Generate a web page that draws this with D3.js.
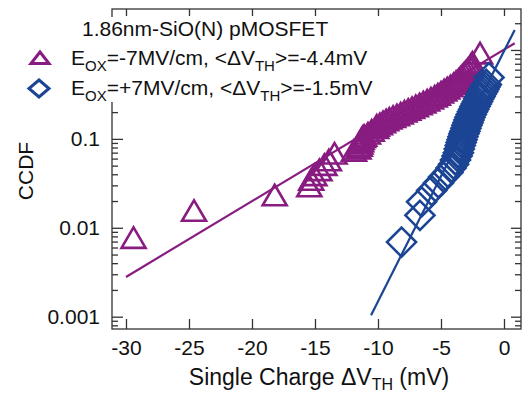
<!DOCTYPE html>
<html>
<head>
<meta charset="utf-8">
<script src="https://cdn.jsdelivr.net/npm/d3@7/dist/d3.min.js"></script>
<style>
  body { margin: 0; background: #fff; }
  svg { display: block; font-family: "Liberation Sans", Arial, sans-serif; }
</style>
</head>
<body>
<div id="chart"></div>
<script>
// Eox = -7 MV/cm (triangles): single charge dVth (mV) and CCDF
const negDV = [-29.4, -24.6, -18.2, -15.45, -15.3, -15.05, -14.65, -14.25, -13.9, -13.45,
  -11.9, -11.55, -11.45, -11.4, -11.35, -11.3, -11.2, -11.1, -10.8, -10.5, -10.15, -10.1,
  -9.85, -9.6, -9.35, -9.1, -8.8, -8.5, -8.2, -7.9, -7.6, -7.3, -7.0, -6.7, -6.4, -6.1,
  -5.8, -5.5, -5.25, -5.0, -4.75, -4.5, -4.25, -4.0, -3.8, -3.6, -3.45, -3.3, -3.15,
  -3.0, -2.85, -2.7, -2.6, -2.5, -1.9];
const negCCDF = [0.0071, 0.0143, 0.0214, 0.027, 0.032, 0.036, 0.041, 0.047, 0.053, 0.063,
  0.068, 0.072, 0.077, 0.082, 0.087, 0.092, 0.097, 0.100, 0.106, 0.114, 0.122, 0.130,
  0.135, 0.142, 0.149, 0.156, 0.163, 0.170, 0.178, 0.187, 0.196, 0.205, 0.215, 0.226, 0.237, 0.249,
  0.262, 0.276, 0.290, 0.306, 0.323, 0.341, 0.360, 0.381, 0.403, 0.426, 0.450, 0.475, 0.502,
  0.531, 0.562, 0.595, 0.630, 0.664, 0.843];

// Eox = +7 MV/cm (diamonds)
const posDV = [-8.13, -6.67, -6.54, -5.74, -5.2, -4.8, -4.45, -4.2, -4.0, -3.85, -3.72,
  -3.62, -3.55, -3.47, -3.40, -3.33, -3.26, -3.18, -3.10, -3.02, -2.94, -2.86, -2.78,
  -2.70, -2.60, -2.50, -2.40, -2.30, -2.20, -2.10, -2.00, -1.90, -1.80, -1.70, -1.60,
  -1.50, -1.40, -1.19];
const posCCDF = [0.0069, 0.0138, 0.0196, 0.0262, 0.0320, 0.0372, 0.042, 0.047, 0.052, 0.058, 0.064,
  0.070, 0.077, 0.084, 0.091, 0.098, 0.106, 0.114, 0.122, 0.132, 0.142, 0.152, 0.163,
  0.175, 0.188, 0.202, 0.216, 0.231, 0.247, 0.264, 0.282, 0.300, 0.320, 0.340, 0.362,
  0.385, 0.410, 0.490];

// exponential fits (end points)
const negFitDV = [-30, 0.85];
const negFitCCDF = [0.0028, 1.19];
const posFitDV = [-10.55, 0.85];
const posFitCCDF = [0.00104, 1.68];

const xTicks = [-30, -25, -20, -15, -10, -5, 0];
const yMajor = [0.001, 0.01, 0.1, 1];
const yLabels = ["0.001", "0.01", "0.1", ""];

const purple = "#881c80";
const blue = "#1b4494";
const axisColor = "#333";

const margin = { top: 9, right: 7, bottom: 69, left: 112 };
const W = 528, H = 398;
const width = W - margin.left - margin.right;
const height = H - margin.top - margin.bottom;

const svg = d3.select("#chart").append("svg")
  .attr("width", W).attr("height", H);

const g = svg.append("g")
  .attr("transform", `translate(${margin.left},${margin.top})`);

const x = d3.scaleLinear().domain([-31.11, 1.35]).range([0, width]);
const y = d3.scaleLog().domain([0.000727, 2.89]).range([height, 0]);

// minor ticks for the log axis
const yMinor = [];
[0.0001, 0.001, 0.01, 0.1, 1].forEach(d => {
  for (let k = 2; k <= 9; k++) {
    const v = d * k;
    if (v > y.domain()[0] && v < y.domain()[1]) yMinor.push(v);
  }
});

function styleAxis(sel) {
  sel.select(".domain").remove();
  sel.selectAll("line").attr("stroke", axisColor).attr("stroke-width", 1.3);
  sel.selectAll("text").attr("font-size", 21).attr("fill", "#111")
    .attr("font-family", "Liberation Sans, Arial, sans-serif");
}

// frame
g.append("rect")
  .attr("width", width).attr("height", height)
  .attr("fill", "none").attr("stroke", axisColor).attr("stroke-width", 1.3);

g.append("g").attr("transform", `translate(0,${height})`)
  .call(d3.axisBottom(x).tickValues(xTicks).tickSize(-10).tickPadding(11).tickFormat(d => String(d)))
  .call(styleAxis);
g.append("g")
  .call(d3.axisTop(x).tickValues(xTicks).tickSize(-7).tickFormat(""))
  .call(styleAxis);

g.append("g")
  .call(d3.axisLeft(y).tickValues(yMajor).tickSize(-11).tickPadding(12)
    .tickFormat((d, i) => yLabels[i]))
  .call(styleAxis);
g.append("g")
  .call(d3.axisLeft(y).tickValues(yMinor).tickSize(-6).tickFormat(""))
  .call(styleAxis);
g.append("g").attr("transform", `translate(${width},0)`)
  .call(d3.axisRight(y).tickValues(yMajor).tickSize(-10).tickFormat(""))
  .call(styleAxis);
g.append("g").attr("transform", `translate(${width},0)`)
  .call(d3.axisRight(y).tickValues(yMinor).tickSize(-6).tickFormat(""))
  .call(styleAxis);

// markers
const triW = 24, triH = 20.5;
const triPath = `M0,${-triH * 2 / 3}L${triW / 2},${triH / 3}L${-triW / 2},${triH / 3}Z`;
const dia = 14.5;
const diaPath = `M0,${-dia}L${dia},0L0,${dia}L${-dia},0Z`;

const negPts = negDV.map((d, i) => ({ dv: d, p: negCCDF[i] }));
const posPts = posDV.map((d, i) => ({ dv: d, p: posCCDF[i] }));

g.append("g").selectAll("path")
  .data(negPts).enter().append("path")
  .attr("d", triPath)
  .attr("transform", d => `translate(${x(d.dv)},${y(d.p)})`)
  .attr("fill", "none").attr("stroke", purple).attr("stroke-width", 2.6);

g.append("g").selectAll("path")
  .data(posPts).enter().append("path")
  .attr("d", diaPath)
  .attr("transform", d => `translate(${x(d.dv)},${y(d.p)})`)
  .attr("fill", "none").attr("stroke", blue).attr("stroke-width", 2.6);

const line = d3.line().x(d => x(d[0])).y(d => y(d[1]));
g.append("path")
  .attr("d", line(negFitDV.map((d, i) => [d, negFitCCDF[i]])))
  .attr("fill", "none").attr("stroke", purple).attr("stroke-width", 2.2);
g.append("path")
  .attr("d", line(posFitDV.map((d, i) => [d, posFitCCDF[i]])))
  .attr("fill", "none").attr("stroke", blue).attr("stroke-width", 2.2);

// legend (white box hides the axis behind it)
const leg = svg.append("g");
leg.append("rect").attr("x", 0).attr("y", 17).attr("width", 380).attr("height", 85).attr("fill", "#fff");

leg.append("text").attr("x", 82).attr("y", 36).attr("font-size", 21).attr("fill", "#111")
  .text("1.86nm-SiO(N) pMOSFET");

function legendRow(yb, sign, mean) {
  const t = leg.append("text").attr("x", 71).attr("y", yb).attr("font-size", 21).attr("fill", "#111");
  t.append("tspan").text("E");
  t.append("tspan").attr("font-size", 15).attr("dy", 6).text("OX");
  t.append("tspan").attr("dy", -6).text(`=${sign}7MV/cm, <ΔV`);
  t.append("tspan").attr("font-size", 15).attr("dy", 6).text("TH");
  t.append("tspan").attr("dy", -6).text(`>=${mean}mV`);
}
legendRow(65, "-", "-4.4");
legendRow(95, "+", "-1.5");

leg.append("path")
  .attr("d", "M0,-7L9,4.5L-9,4.5Z")
  .attr("transform", "translate(40,59)")
  .attr("fill", "none").attr("stroke", purple).attr("stroke-width", 3);
leg.append("path")
  .attr("d", "M0,-8.5L10,0L0,8.5L-10,0Z")
  .attr("transform", "translate(39,88.5)")
  .attr("fill", "none").attr("stroke", blue).attr("stroke-width", 3);

// axis titles
const xt = svg.append("text")
  .attr("x", 319).attr("y", 385)
  .attr("text-anchor", "middle").attr("font-size", 23).attr("fill", "#111");
xt.append("tspan").text("Single Charge ΔV");
xt.append("tspan").attr("font-size", 16).attr("dy", 5).text("TH");
xt.append("tspan").attr("dy", -5).text(" (mV)");

svg.append("text")
  .attr("transform", `translate(33,171) rotate(-90)`)
  .attr("text-anchor", "middle").attr("font-size", 21).attr("fill", "#111")
  .text("CCDF");
</script>
</body>
</html>
